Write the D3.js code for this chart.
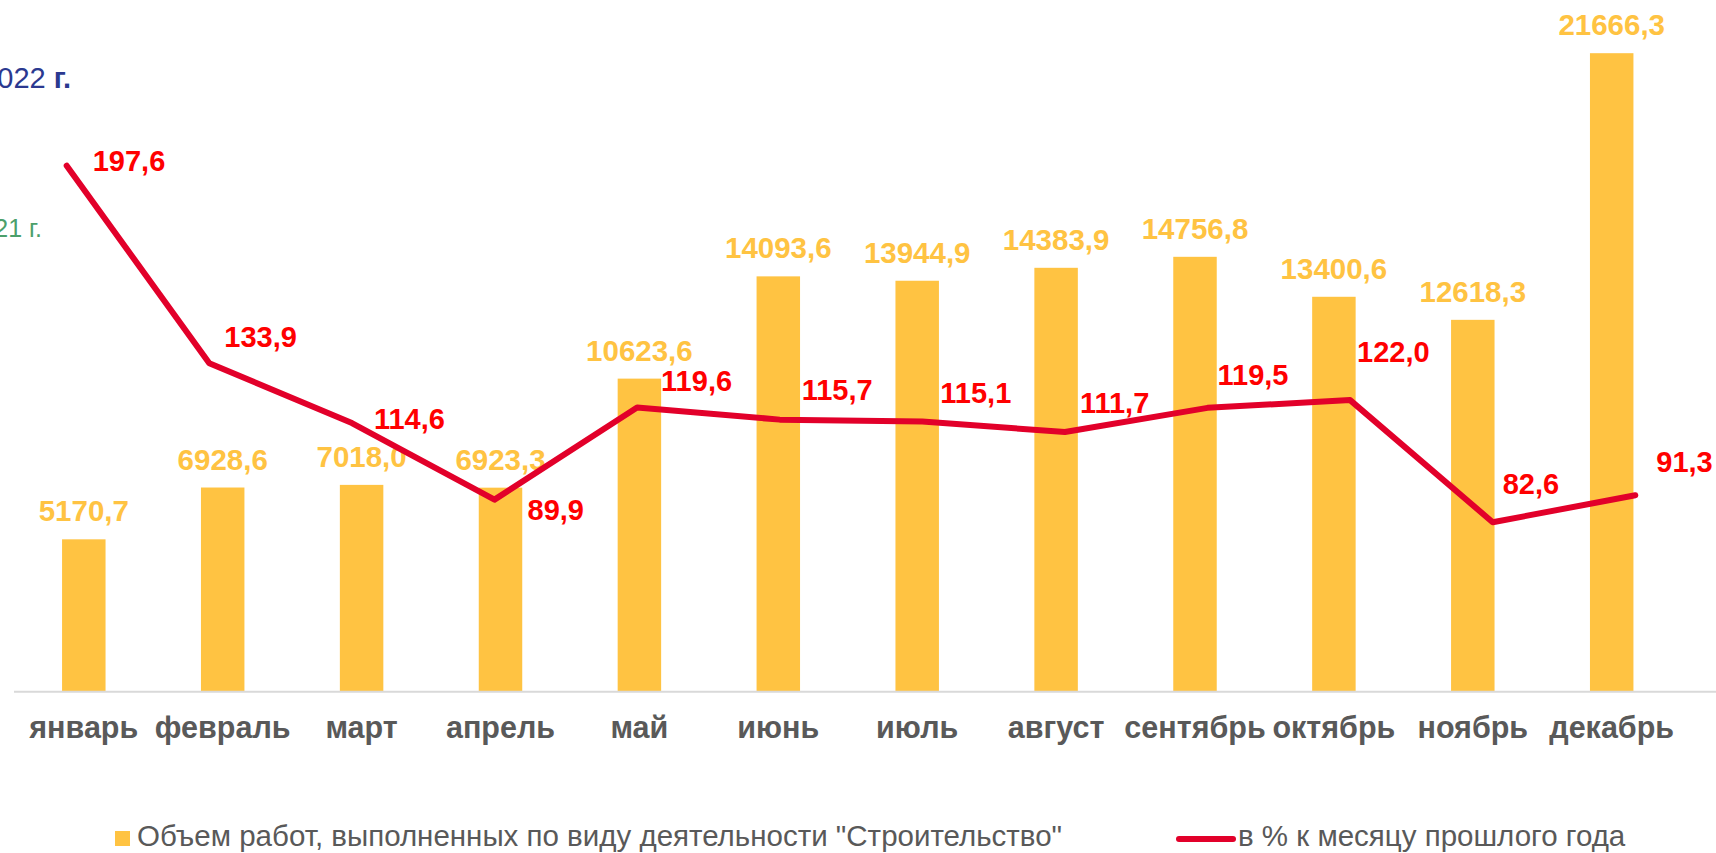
<!DOCTYPE html>
<html>
<head>
<meta charset="utf-8">
<script src="https://cdn.jsdelivr.net/npm/d3@7"></script>
<style>
  body { margin: 0; background: #fff; }
  svg { display: block; font-family: "Liberation Sans", Arial, sans-serif; }
</style>
</head>
<body>
<svg id="chart" width="1716" height="853"></svg>
<script>
// months on the x axis
var months = ["январь", "февраль", "март", "апрель", "май", "июнь",
  "июль", "август", "сентябрь", "октябрь", "ноябрь", "декабрь"];
// volume of construction work (bars)
var volume = [5170.7, 6928.6, 7018.0, 6923.3, 10623.6, 14093.6,
  13944.9, 14383.9, 14756.8, 13400.6, 12618.3, 21666.3];
// % to the same month of last year (line)
var percent = [197.6, 133.9, 114.6, 89.9, 119.6, 115.7,
  115.1, 111.7, 119.5, 122.0, 82.6, 91.3];
var seriesNames = ['Объем работ, выполненных по виду деятельности "Строительство"',
  "в % к месяцу прошлого года"];

// label nudges for the line labels (hand placed in the original)
var lineLabelOffsets = [[26, 5], [15, -16], [22, 6], [33, 20], [24, -17], [22, -20],
  [18, -18], [15, -19], [10, -23], [7, -38], [10, -28], [21, -23]];

var fmt = function (v) { return v.toFixed(1).replace(".", ","); };

var svg = d3.select("#chart"),
  width = +svg.attr("width");

var barColor = "#FFC342",
  lineColor = "#E2002A",
  labelRed = "#FF0000",
  axisText = "#595959";

var baseline = 691.7;

var xBar = d3.scaleBand()
  .domain(months)
  .range([14.35, 14.35 + 12 * 138.9])
  .paddingInner(0.687)
  .paddingOuter(0.3435);

var yBar = d3.scaleLinear().domain([0, 23000]).range([baseline, baseline - 23000 * 0.02947]);

// line sits on its own (secondary) scales
var xLine = d3.scalePoint().domain(months).range([66.7, 66.7 + 11 * 142.6]);
var yLine = d3.scaleLinear().domain([0, 250]).range([778.3, 778.3 - 250 * 3.1]);

// cut-off texts at top left (they run past the left edge in the original too)
svg.append("text")
  .attr("x", 71).attr("y", 88)
  .attr("text-anchor", "end")
  .attr("font-size", 29)
  .style("fill", "#2B3990")
  .html('2022 <tspan font-weight="bold">г.</tspan>');
svg.append("text")
  .attr("x", 42).attr("y", 237)
  .attr("text-anchor", "end")
  .attr("font-size", 25)
  .style("fill", "#4C9F6B")
  .text("2021 г.");

// bars
svg.append("g")
  .selectAll("rect")
  .data(volume)
  .enter()
  .append("rect")
  .attr("x", function (d, i) { return xBar(months[i]); })
  .attr("y", function (d) { return yBar(d); })
  .attr("width", xBar.bandwidth())
  .attr("height", function (d) { return baseline - yBar(d); })
  .style("fill", barColor);

// axis line
svg.append("line")
  .attr("x1", 14).attr("x2", width)
  .attr("y1", baseline).attr("y2", baseline)
  .style("stroke", "#D9D9D9")
  .style("stroke-width", 2);

// month labels
svg.append("g")
  .selectAll("text")
  .data(months)
  .enter()
  .append("text")
  .attr("x", function (d) { return xBar(d) + xBar.bandwidth() / 2; })
  .attr("y", 738)
  .attr("text-anchor", "middle")
  .attr("font-size", 30.5)
  .attr("font-weight", "bold")
  .style("fill", axisText)
  .text(function (d) { return d; });

// bar value labels
svg.append("g")
  .selectAll("text")
  .data(volume)
  .enter()
  .append("text")
  .attr("x", function (d, i) { return xBar(months[i]) + xBar.bandwidth() / 2; })
  .attr("y", function (d) { return yBar(d) - 18; })
  .attr("text-anchor", "middle")
  .attr("font-size", 29.5)
  .attr("font-weight", "bold")
  .style("fill", barColor)
  .text(fmt);

// line
var line = d3.line()
  .x(function (d, i) { return xLine(months[i]); })
  .y(function (d) { return yLine(d); });

svg.append("path")
  .datum(percent)
  .attr("d", line)
  .style("fill", "none")
  .style("stroke", lineColor)
  .style("stroke-width", 6)
  .style("stroke-linejoin", "round")
  .style("stroke-linecap", "round");

// line value labels
svg.append("g")
  .selectAll("text")
  .data(percent)
  .enter()
  .append("text")
  .attr("x", function (d, i) { return xLine(months[i]) + lineLabelOffsets[i][0]; })
  .attr("y", function (d, i) { return yLine(d) + lineLabelOffsets[i][1]; })
  .attr("font-size", 29)
  .attr("font-weight", "bold")
  .style("fill", labelRed)
  .text(fmt);

// legend
var legend = svg.append("g").attr("class", "legend");
legend.append("rect")
  .attr("x", 115).attr("y", 831)
  .attr("width", 15).attr("height", 15)
  .style("fill", barColor);
legend.append("text")
  .attr("x", 137).attr("y", 846)
  .attr("font-size", 29.5)
  .style("fill", axisText)
  .text(seriesNames[0]);
legend.append("line")
  .attr("x1", 1179).attr("x2", 1233)
  .attr("y1", 839).attr("y2", 839)
  .style("stroke", lineColor)
  .style("stroke-width", 6)
  .style("stroke-linecap", "round");
legend.append("text")
  .attr("x", 1238).attr("y", 846)
  .attr("font-size", 29.5)
  .style("fill", axisText)
  .text(seriesNames[1]);
</script>
</body>
</html>
